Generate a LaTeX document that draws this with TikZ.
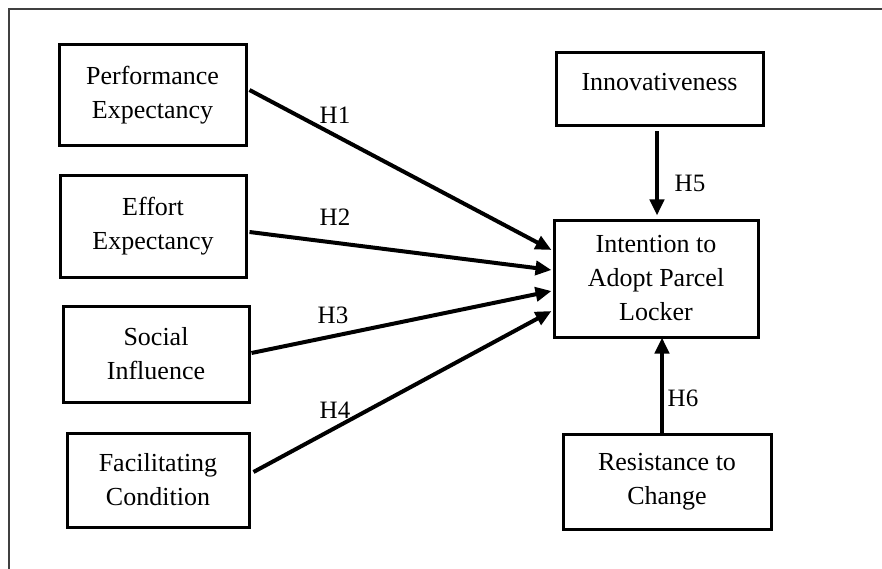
\documentclass[tikz,border=0pt]{standalone}
\usepackage{fontspec}
\setmainfont{Liberation Serif}
\usetikzlibrary{arrows.meta,calc}
\begin{document}
\begin{tikzpicture}[x=1pt,y=-1pt,
  box/.style={draw=black,line width=3pt,rectangle,inner sep=0pt,align=center,
    font=\fontsize{26}{34}\selectfont},
  txt/.style={inner sep=0pt,align=center,font=\fontsize{26}{34}\selectfont},
  hyp/.style={inner sep=0pt,font=\fontsize{25}{30}\selectfont},
  arr/.style={line width=4pt,-{Triangle[length=16pt,width=14pt]}},
  frame/.style={draw=black!75,line width=1.8pt}]
\useasboundingbox (0,0) rectangle (882,569);
\coordinate (ftl) at (9,9);
\coordinate (fbl) at (9,569);
\coordinate (ftr) at (882,9);
\draw[frame] (fbl) -- (ftl) -- (ftr);

\node[box,minimum width=187,minimum height=101] (perf) at (152.5,95.5) {Performance\\Expectancy};
\node[box,minimum width=186,minimum height=101] (eff) at (153,226.5) {Effort\\Expectancy};
\node[box,minimum width=186,minimum height=96] (soc) at (156,354) {Social\\Influence};
\node[box,minimum width=182,minimum height=94] (fac) at (158,480) {Facilitating\\Condition};
\node[box,minimum width=207,minimum height=73] (inn) at (659.5,89.5) {};
\node[txt] (inntxt) at (659.5,82) {Innovativeness};
\node[box,minimum width=204,minimum height=117] (int) at (656,278.5) {Intention to\\Adopt Parcel\\Locker};
\node[box,minimum width=208,minimum height=95] (res) at (667,481.5) {Resistance to\\Change};

\draw[arr] ($(perf.east)+(2,-5.5)$) -- ($(int.west)+(-1,-28.5)$);
\draw[arr] ($(eff.east)+(2,5.5)$) -- ($(int.west)+(-1,-8.5)$);
\draw[arr] ($(soc.east)+(1,-1)$) -- ($(int.west)+(-1,12.5)$);
\draw[arr] ($(fac.east)+(3,-8)$) -- ($(int.west)+(-1,32.5)$);
\draw[arr] ($(inn.south)+(-2.5,4)$) -- ($(int.north)+(1,-3)$);
\draw[arr] ($(res.north)+(-5,0)$) -- ($(int.south)+(6,-1)$);

\node[hyp] (h1) at (335,115) {H1};
\node[hyp] (h2) at (335,217) {H2};
\node[hyp] (h3) at (333,315) {H3};
\node[hyp] (h4) at (335,410) {H4};
\node[hyp] (h5) at (690,183) {H5};
\node[hyp] (h6) at (683,398) {H6};
\end{tikzpicture}
\end{document}
